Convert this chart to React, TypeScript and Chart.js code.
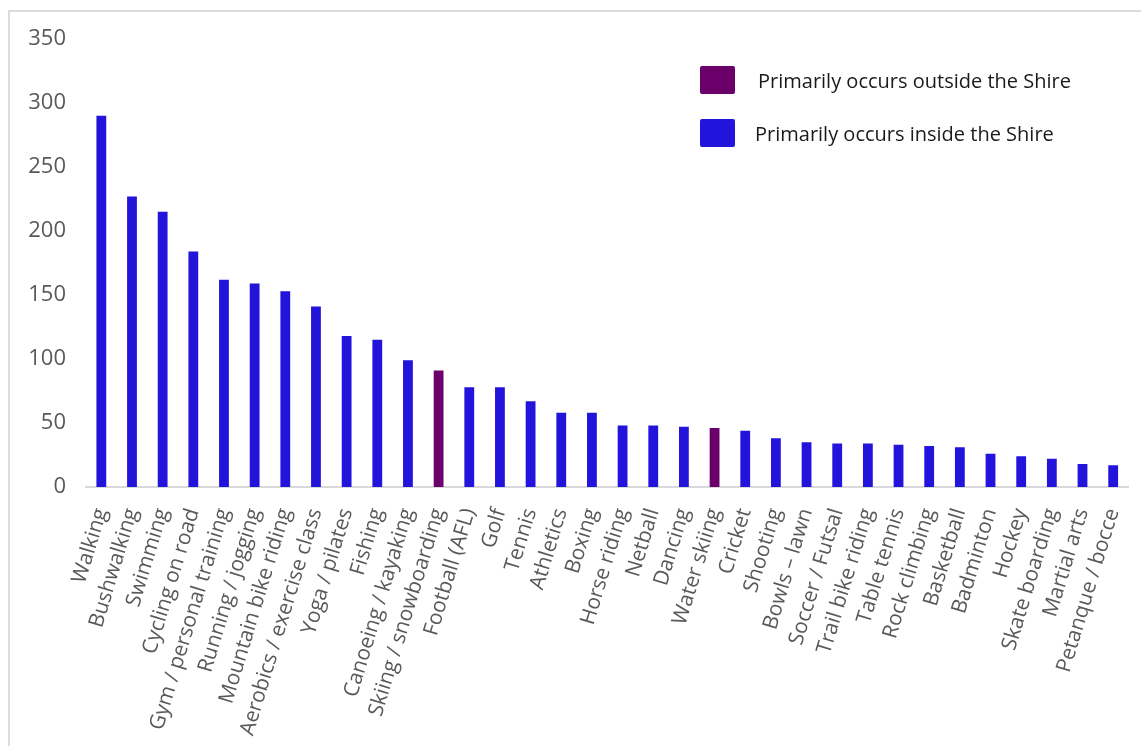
import React, { useEffect, useRef } from "react";
import { Chart, registerables } from "chart.js";

Chart.register(...registerables);

const categories = [
  "Walking", "Bushwalking", "Swimming", "Cycling on road", "Gym / personal training",
  "Running / jogging", "Mountain bike riding", "Aerobics / exercise class", "Yoga / pilates",
  "Fishing", "Canoeing / kayaking", "Skiing / snowboarding", "Football (AFL)", "Golf",
  "Tennis", "Athletics", "Boxing", "Horse riding", "Netball", "Dancing", "Water skiing",
  "Cricket", "Shooting", "Bowls – lawn", "Soccer / Futsal", "Trail bike riding",
  "Table tennis", "Rock climbing", "Basketball", "Badminton", "Hockey", "Skate boarding",
  "Martial arts", "Petanque / bocce",
];

const values = [
  290, 227, 215, 184, 162, 159, 153, 141, 118, 115, 99, 91, 78, 78, 67, 58, 58, 48, 48,
  47, 46, 44, 38, 35, 34, 34, 33, 32, 31, 26, 24, 22, 18, 17,
];

const outsideShire = ["Skiing / snowboarding", "Water skiing"];

const legendLabels = ["Primarily occurs outside the Shire", "Primarily occurs inside the Shire"];

const yTicks = [0, 50, 100, 150, 200, 250, 300, 350];

const COLOR_OUTSIDE = "#6B006B";
const COLOR_INSIDE = "#2314DC";

export default function App() {
  const canvasRef = useRef<HTMLCanvasElement | null>(null);

  useEffect(() => {
    if (!canvasRef.current) return;
    const colors = categories.map((c) => (outsideShire.includes(c) ? COLOR_OUTSIDE : COLOR_INSIDE));
    const chart = new Chart(canvasRef.current, {
      type: "bar",
      data: {
        labels: categories,
        datasets: [
          {
            data: values,
            backgroundColor: colors,
            borderWidth: 0,
            barPercentage: 0.32,
            categoryPercentage: 1,
          },
        ],
      },
      options: {
        responsive: false,
        animation: false,
        layout: { padding: { top: 39, left: 26, right: 12.5, bottom: 0 } },
        plugins: { legend: { display: false }, tooltip: { enabled: false } },
        scales: {
          x: {
            grid: { display: false, drawTicks: false },
            border: { display: true, color: "#d9d9d9", width: 2 },
            ticks: {
              autoSkip: false,
              maxRotation: 73,
              minRotation: 73,
              padding: 20,
              color: "#595959",
              font: { family: "'Open Sans', sans-serif", size: 21, lineHeight: 0.7 },
            },
            afterFit: (scale: any) => {
              scale.height = 259;
              scale.paddingRight = 0;
              scale.paddingLeft = 0;
            },
          },
          y: {
            min: 0,
            max: yTicks[yTicks.length - 1],
            grid: { display: false, drawTicks: false },
            border: { display: false },
            afterBuildTicks: (scale: any) => {
              scale.ticks = yTicks.map((v) => ({ value: v }));
            },
            ticks: {
              padding: 20,
              color: "#595959",
              font: { family: "'Open Sans', sans-serif", size: 22 },
            },
            afterFit: (scale: any) => {
              scale.width = 60;
            },
          },
        },
      },
    });
    return () => chart.destroy();
  }, []);

  const legendColors = [COLOR_OUTSIDE, COLOR_INSIDE];

  return (
    <div style={{ position: "fixed", left: 0, top: 0, width: 1141, height: 746, overflow: "hidden", background: "#fff" }}>
      <div
        style={{
          position: "absolute",
          left: 8,
          top: 10,
          width: 1300,
          height: 900,
          border: "2px solid #dcdcdc",
        }}
      />
      <canvas
        ref={canvasRef}
        width={1141}
        height={746}
        style={{ position: "absolute", left: 0, top: 0, width: 1141, height: 746 }}
      />
      {legendLabels.map((label, i) => (
        <div
          key={label}
          style={{
            position: "absolute",
            left: 700,
            top: i === 0 ? 66 : 119,
            height: 28,
            display: "flex",
            alignItems: "center",
            fontFamily: "'Open Sans', sans-serif",
            fontSize: 20,
            color: "#1a1a1a",
            whiteSpace: "nowrap",
          }}
        >
          <span
            style={{
              display: "inline-block",
              width: 35,
              height: 28,
              borderRadius: 2,
              background: legendColors[i],
              marginRight: i === 0 ? 23 : 20,
            }}
          />
          {label}
        </div>
      ))}
    </div>
  );
}
